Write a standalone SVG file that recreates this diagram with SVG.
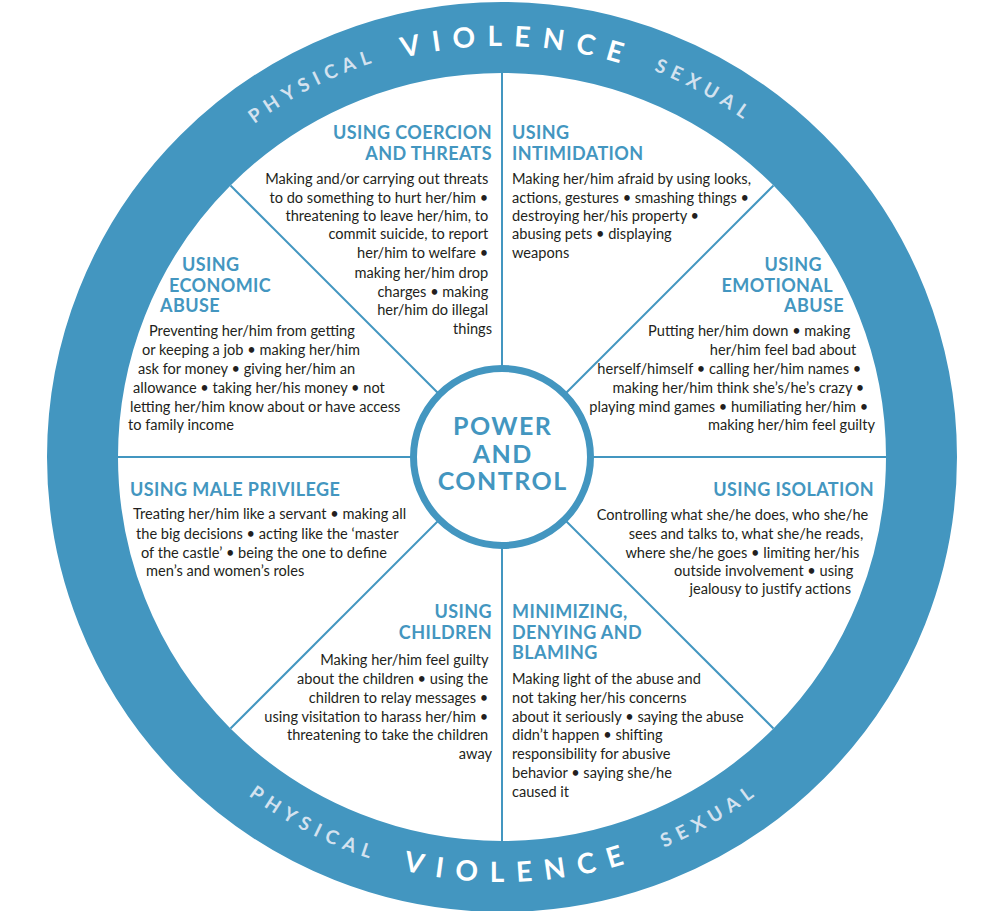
<svg xmlns="http://www.w3.org/2000/svg" width="1004" height="911" viewBox="0 0 1004 911">
<style>
.h{font-family:Lato,"Open Sans",sans-serif;font-weight:700;font-size:18px;fill:#4396c0;letter-spacing:0.4px}
.b{font-family:Lato,"Open Sans",sans-serif;font-size:14.6px;fill:#231f20}
.e{text-anchor:end}
.r1{font-family:Lato,"Open Sans",sans-serif;font-weight:700;font-size:19px;fill:#d4e2ef}
.r2{font-family:Lato,"Open Sans",sans-serif;font-weight:700;font-size:28px;fill:#ffffff}
.c{font-family:Lato,"Open Sans",sans-serif;font-weight:700;font-size:25px;fill:#4396c0;letter-spacing:1.5px;text-anchor:middle}
.sp{stroke:#4396c0;stroke-width:2;fill:none}
</style>
<defs>
<path id="tS" d="M87,457 A415,415 0 0 1 917,457"/>
<path id="tV" d="M91,457 A411,411 0 0 1 913,457"/>
<path id="bS" d="M79,457 A423,423 0 0 0 925,457"/>
<path id="bV" d="M77,457 A425,425 0 0 0 927,457"/>
</defs>
<rect width="1004" height="911" fill="#ffffff"/>
<g id="ring">
<circle cx="502" cy="457" r="419.5" fill="#ffffff" stroke="#4396c0" stroke-width="71"/>
<text class="r1" letter-spacing="6.2"><textPath href="#tS" startOffset="456" text-anchor="middle">PHYSICAL</textPath></text>
<text class="r2" letter-spacing="11.8"><textPath href="#tV" startOffset="661" text-anchor="middle">VIOLENCE</textPath></text>
<text class="r1" letter-spacing="6.2"><textPath href="#tS" startOffset="861" text-anchor="middle">SEXUAL</textPath></text>
<text class="r1" letter-spacing="6.7"><textPath href="#bS" startOffset="464" text-anchor="middle">PHYSICAL</textPath></text>
<text class="r2" letter-spacing="12.5"><textPath href="#bV" startOffset="686" text-anchor="middle">VIOLENCE</textPath></text>
<text class="r1" letter-spacing="6.7"><textPath href="#bS" startOffset="886" text-anchor="middle">SEXUAL</textPath></text>
</g>
<g id="connectors">
<line class="sp" x1="502" y1="73" x2="502" y2="841"/>
<line class="sp" x1="118" y1="457" x2="886" y2="457"/>
<line class="sp" x1="230.5" y1="185.5" x2="773.5" y2="728.5"/>
<line class="sp" x1="773.5" y1="185.5" x2="230.5" y2="728.5"/>
</g>
<g id="hub">
<circle cx="502" cy="457" r="88.5" fill="#ffffff" stroke="#4396c0" stroke-width="7"/>
<text class="c" x="502.7" y="435">POWER</text>
<text class="c" x="502.7" y="463">AND</text>
<text class="c" x="502.7" y="490">CONTROL</text>
</g>
<g id="coercion">
<text class="h e"><tspan x="492" y="139">USING COERCION</tspan><tspan x="492" y="160">AND THREATS</tspan></text>
<text class="b e">
<tspan x="492" y="184.3">Making and/or carrying out threats</tspan>
<tspan x="492" y="202.7">to do something to hurt her/him •</tspan>
<tspan x="492" y="221">threatening to leave her/him, to</tspan>
<tspan x="492" y="239.3">commit suicide, to report</tspan>
<tspan x="492" y="258.3">her/him to welfare •</tspan>
<tspan x="492" y="277.7">making her/him drop</tspan>
<tspan x="492" y="296.7">charges • making</tspan>
<tspan x="492" y="315.3">her/him do illegal</tspan>
<tspan x="492" y="334.3">things</tspan>
</text>
</g>
<g id="intimidation">
<text class="h"><tspan x="512" y="139">USING</tspan><tspan x="512" y="160">INTIMIDATION</tspan></text>
<text class="b">
<tspan x="512" y="184.3">Making her/him afraid by using looks,</tspan>
<tspan x="512" y="202.7">actions, gestures • smashing things •</tspan>
<tspan x="512" y="221">destroying her/his property •</tspan>
<tspan x="512" y="239.3">abusing pets • displaying</tspan>
<tspan x="512" y="258.3">weapons</tspan>
</text>
</g>
<g id="emotional">
<text class="h e"><tspan x="822" y="271">USING</tspan><tspan x="833" y="292">EMOTIONAL</tspan><tspan x="844" y="311.5">ABUSE</tspan></text>
<text class="b e">
<tspan x="854" y="336">Putting her/him down • making</tspan>
<tspan x="860" y="355">her/him feel bad about</tspan>
<tspan x="865" y="373.7">herself/himself • calling her/him names •</tspan>
<tspan x="868" y="392.7">making her/him think she’s/he’s crazy •</tspan>
<tspan x="872" y="411.7">playing mind games • humiliating her/him •</tspan>
<tspan x="875" y="430.3">making her/him feel guilty</tspan>
</text>
</g>
<g id="economic">
<text class="h"><tspan x="182" y="271">USING</tspan><tspan x="169" y="292">ECONOMIC</tspan><tspan x="160" y="311.5">ABUSE</tspan></text>
<text class="b">
<tspan x="149" y="336">Preventing her/him from getting</tspan>
<tspan x="142" y="355">or keeping a job • making her/him</tspan>
<tspan x="138" y="373.7">ask for money • giving her/him an</tspan>
<tspan x="133" y="392.7">allowance • taking her/his money • not</tspan>
<tspan x="130" y="411.7">letting her/him know about or have access</tspan>
<tspan x="128" y="430.3">to family income</tspan>
</text>
</g>
<g id="male-privilege">
<text class="h" x="130" y="496">USING MALE PRIVILEGE</text>
<text class="b">
<tspan x="133" y="519.3">Treating her/him like a servant • making all</tspan>
<tspan x="136" y="538.7">the big decisions • acting like the ‘master</tspan>
<tspan x="141" y="557.7">of the castle’ • being the one to define</tspan>
<tspan x="146" y="576">men’s and women’s roles</tspan>
</text>
</g>
<g id="isolation">
<text class="h e" x="874" y="496">USING ISOLATION</text>
<text class="b e">
<tspan x="872" y="520.3">Controlling what she/he does, who she/he</tspan>
<tspan x="867" y="539.3">sees and talks to, what she/he reads,</tspan>
<tspan x="863" y="557.7">where she/he goes • limiting her/his</tspan>
<tspan x="857" y="576">outside involvement • using</tspan>
<tspan x="851" y="594.3">jealousy to justify actions</tspan>
</text>
</g>
<g id="children">
<text class="h e"><tspan x="492" y="617.7">USING</tspan><tspan x="492" y="639">CHILDREN</tspan></text>
<text class="b e">
<tspan x="492" y="665.3">Making her/him feel guilty</tspan>
<tspan x="492" y="684.3">about the children • using the</tspan>
<tspan x="492" y="703.3">children to relay messages •</tspan>
<tspan x="492" y="722">using visitation to harass her/him •</tspan>
<tspan x="492" y="740.3">threatening to take the children</tspan>
<tspan x="492" y="759.3">away</tspan>
</text>
</g>
<g id="minimizing">
<text class="h"><tspan x="512" y="618.3">MINIMIZING,</tspan><tspan x="512" y="639.3">DENYING AND</tspan><tspan x="512" y="659.3">BLAMING</tspan></text>
<text class="b">
<tspan x="512" y="684.3">Making light of the abuse and</tspan>
<tspan x="512" y="703.3">not taking her/his concerns</tspan>
<tspan x="512" y="721.7">about it seriously • saying the abuse</tspan>
<tspan x="512" y="740.3">didn’t happen • shifting</tspan>
<tspan x="512" y="759.3">responsibility for abusive</tspan>
<tspan x="512" y="778.3">behavior • saying she/he</tspan>
<tspan x="512" y="797">caused it</tspan>
</text>
</g>
</svg>
